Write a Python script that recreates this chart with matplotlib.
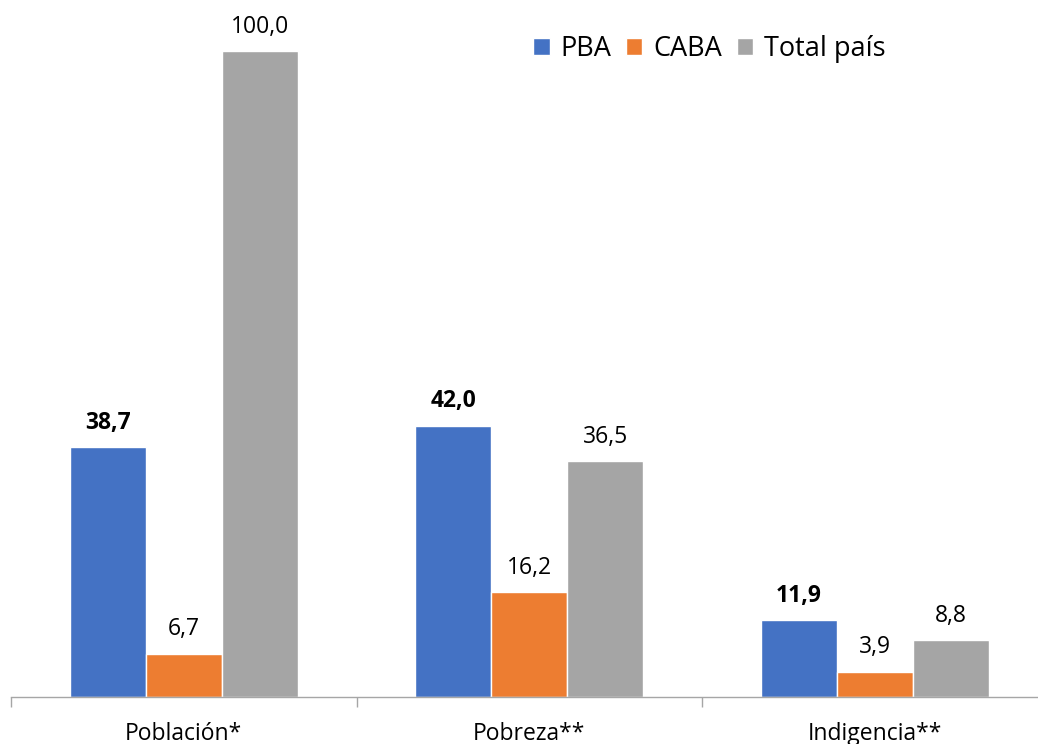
import numpy as np
import matplotlib
matplotlib.use("Agg")
import matplotlib.pyplot as plt

# data
categories = ["Población*", "Pobreza**", "Indigencia**"]
series = ["PBA", "CABA", "Total país"]
pba = [38.7, 42.0, 11.9]
caba = [6.7, 16.2, 3.9]
total = [100.0, 36.5, 8.8]
colors = ["#4472C4", "#ED7D31", "#A5A5A5"]

plt.rcParams["font.family"] = ["Open Sans", "DejaVu Sans"]

fig = plt.figure(figsize=(10.38, 7.44), dpi=100)
ax = fig.add_axes([11 / 1038, 47 / 744, 1036.5 / 1038, 678 / 744])

x = np.arange(len(categories))
w = 0.22
for i, (vals, name, c) in enumerate(zip([pba, caba, total], series, colors)):
    pos = x + (i - 1) * w
    ax.bar(pos, vals, width=w, color=c, edgecolor="white", linewidth=1, label=name, zorder=2)
    for xp, v in zip(pos, vals):
        ax.annotate(f"{v:.1f}".replace(".", ","), (xp, v), xytext=(0, 9),
                    textcoords="offset points", ha="center", va="bottom",
                    fontsize=16.5, fontweight="bold" if i == 0 else "normal",
                    color="black")

ax.set_xlim(-0.5, len(categories) - 0.5)
ax.set_ylim(0, 105)
ax.set_yticks([])
ax.set_xticks(x)
ax.set_xticklabels(categories, fontsize=16.5)
ax.tick_params(axis="x", which="major", length=0, pad=18)
ax.set_xticks(np.arange(-0.5, len(categories)), minor=True)
ax.tick_params(axis="x", which="minor", length=7, color="#A6A6A6", width=1)

for s in ["top", "right", "left"]:
    ax.spines[s].set_visible(False)
ax.spines["bottom"].set_color("#A6A6A6")
ax.spines["bottom"].set_linewidth(1)

ax.legend(loc="upper left", bbox_to_anchor=(498 / 1036.5, 1.012), ncol=3, frameon=False,
          fontsize=19.5, handlelength=0.6, handleheight=0.6, handletextpad=0.4,
          columnspacing=0.55)

fig.savefig("out.png", dpi=100)
